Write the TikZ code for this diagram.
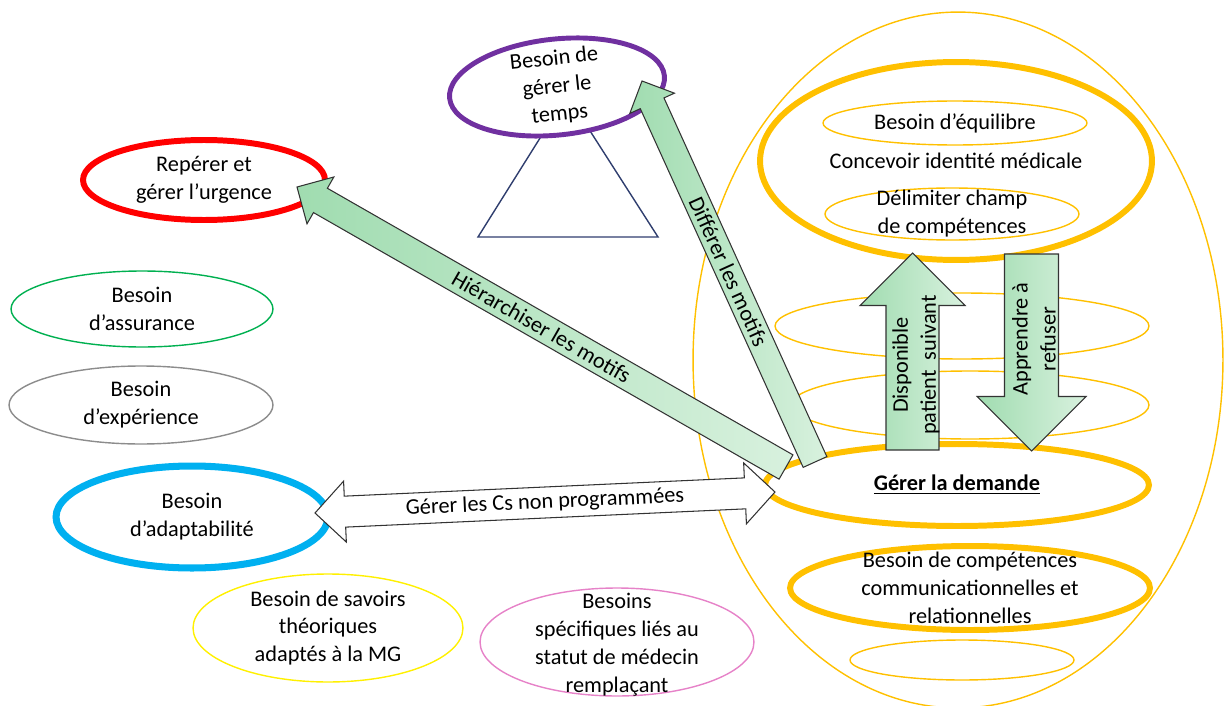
\documentclass[tikz,border=0pt]{standalone}
\usepackage{fontspec}
\setmainfont{Carlito}
\usetikzlibrary{shapes.geometric,calc}

\definecolor{gold}{RGB}{255,192,0}
\definecolor{urgred}{RGB}{255,0,0}
\definecolor{tempsviolet}{RGB}{112,48,160}
\definecolor{assurgreen}{RGB}{0,176,80}
\definecolor{expgray}{RGB}{140,140,140}
\definecolor{adaptblue}{RGB}{0,176,240}
\definecolor{savyellow}{RGB}{255,240,0}
\definecolor{rempink}{RGB}{230,130,200}
\definecolor{trinavy}{RGB}{47,62,110}
\definecolor{arrowdark}{RGB}{160,220,176}
\definecolor{arrowlight}{RGB}{216,241,222}

% flèche pleine : style, queue, pointe, demi-largeur du corps, demi-largeur de la tête
\newcommand{\blockarrow}[5]{%
  \coordinate (#2-b) at ($(#3)!#5!(#2)$);
  \draw[#1] ($(#2)!#4!90:(#3)$) -- ($(#2-b)!#4!90:(#3)$) -- ($(#2-b)!#5!90:(#3)$) -- (#3)
    -- ($(#2-b)!#5!-90:(#3)$) -- ($(#2-b)!#4!-90:(#3)$) -- ($(#2)!#4!-90:(#3)$) -- cycle;
}

\begin{document}
\begin{tikzpicture}[
    x=0.02cm, y=-0.02cm,
    every node/.style={font=\fontsize{12.7}{15.9}\selectfont},
    ring/.style={ellipse, draw, inner sep=0pt},
    thinring/.style={ring, line width=0.8pt},
    thickring/.style={ring, line width=3.4pt},
    txt/.style={align=center, inner sep=0pt},
    arrowtxt/.style={inner sep=0pt},
    greenarrow/.style={draw=black!80, line width=0.6pt, line join=miter,
      left color=arrowdark, right color=arrowlight},
    whitearrow/.style={draw=black!80, line width=0.6pt, fill=white}
  ]
    \useasboundingbox (0,0) rectangle (1227,706);

    % grand ovale de droite
    \node[thinring, draw=gold, minimum width=10.6cm, minimum height=13.92cm] (outer) at (958,360) {};

    % triangle sous le temps
    \draw[trinavy, line width=0.8pt] (478,237) -- (567,95) -- (658,237) -- cycle;

    % ovales de gauche
    \node[ring, draw=tempsviolet, fill=white, line width=2.8pt, rotate=6, minimum width=4.32cm, minimum height=1.92cm] (temps) at (557,87) {};
    \node[thickring, draw=urgred, minimum width=4.84cm, minimum height=1.6cm] (urgence) at (204,180) {};
    \node[thinring, draw=assurgreen, minimum width=5.24cm, minimum height=1.52cm] (assurance) at (142,309) {};
    \node[thinring, draw=expgray, minimum width=5.28cm, minimum height=1.56cm] (experience) at (141,405) {};
    \node[ring, draw=adaptblue, line width=4pt, minimum width=5.44cm, minimum height=2.04cm] (adapt) at (192,517) {};
    \node[thinring, draw=savyellow, minimum width=5.4cm, minimum height=2.16cm] (savoirs) at (328,628) {};
    \node[thinring, draw=rempink, minimum width=5.48cm, minimum height=2.16cm] (remplacant) at (617,642) {};

    % ovales de droite
    \node[thickring, draw=gold, minimum width=7.84cm, minimum height=3.96cm] (identite) at (956,161) {};
    \node[thinring, draw=gold, minimum width=5.28cm, minimum height=0.88cm] (equilibre) at (955,123) {};
    \node[thinring, draw=gold, minimum width=5.08cm, minimum height=1.04cm] (champ) at (952,214) {};
    \node[thinring, draw=gold, minimum width=7.48cm, minimum height=1.32cm] (vide1) at (962,326) {};
    \node[thinring, draw=gold, minimum width=7.16cm, minimum height=1.36cm] (vide2) at (970,405) {};
    \node[thickring, draw=gold, minimum width=7.68cm, minimum height=1.64cm] (demande) at (957,485) {};
    \node[thickring, draw=gold, minimum width=7.2cm, minimum height=1.68cm] (comm) at (970,588) {};
    \node[thinring, draw=gold, minimum width=4.48cm, minimum height=0.8cm] (vide3) at (962,660) {};

    % textes
    \node[txt, rotate=6] (tempstxt) at (temps) {Besoin de\\gérer le\\temps};
    \node[txt] (urgencetxt) at (urgence) {Repérer et\\gérer l’urgence};
    \node[txt] (assurancetxt) at (assurance) {Besoin\\d’assurance};
    \node[txt] (experiencetxt) at (experience) {Besoin\\d’expérience};
    \node[txt] (adapttxt) at (adapt) {Besoin\\d’adaptabilité};
    \node[txt] (savoirstxt) at (savoirs) {Besoin de savoirs\\théoriques\\adaptés à la MG};
    \node[txt] (remplacanttxt) at ($(remplacant)+(0,3)$) {Besoins\\spécifiques liés au\\statut de médecin\\remplaçant};
    \node[txt] (identitetxt) at (identite) {Concevoir identité médicale};
    \node[txt] (equilibretxt) at (equilibre) {Besoin d’équilibre};
    \node[txt] (champtxt) at (champ) {Délimiter champ\\de compétences};
    \node[txt] (demandetxt) at (demande) {\textbf{\underline{Gérer la demande}}};
    \node[txt] (commtxt) at (comm) {Besoin de compétences\\communicationnelles et\\relationnelles};

    % flèches vertes
    \coordinate (hierTail) at (786,467);
    \coordinate (hierTip) at (297,187);
    \blockarrow{greenarrow}{hierTail}{hierTip}{0.28cm}{0.54cm}
    \path (hierTip) -- (hierTail) node[midway, sloped, arrowtxt] (hiertxt) {Hiérarchiser les motifs};

    \coordinate (differTail) at (815,462);
    \coordinate (differTip) at (642,81);
    \blockarrow{greenarrow}{differTail}{differTip}{0.26cm}{0.49cm}
    \path (differTip) -- (differTail) node[midway, sloped, arrowtxt] (differtxt) {Différer les motifs};

    \coordinate (dispoTail) at (912.5,450);
    \coordinate (dispoTip) at (912.5,253);
    \blockarrow{greenarrow}{dispoTail}{dispoTip}{0.53cm}{1.05cm}
    \node[txt, rotate=90] (dispotxt) at (916,365) {Disponible\\patient\ \ suivant};

    \coordinate (refusTail) at (1031.5,254);
    \coordinate (refusTip) at (1031.5,451);
    \blockarrow{greenarrow}{refusTail}{refusTip}{0.54cm}{1.09cm}
    \node[txt, rotate=90] (refustxt) at (1034,339) {Apprendre à\\refuser};

    % flèche double
    \coordinate (csL) at (315,513);
    \coordinate (csR) at (775,492);
    \coordinate (csLb) at ($(csL)!0.6cm!(csR)$);
    \coordinate (csRb) at ($(csR)!0.6cm!(csL)$);
    \draw[whitearrow] (csL) -- ($(csLb)!0.61cm!90:(csR)$) -- ($(csLb)!0.31cm!90:(csR)$)
      -- ($(csRb)!0.31cm!-90:(csL)$) -- ($(csRb)!0.61cm!-90:(csL)$) -- (csR)
      -- ($(csRb)!0.61cm!90:(csL)$) -- ($(csRb)!0.31cm!90:(csL)$)
      -- ($(csLb)!0.31cm!-90:(csR)$) -- ($(csLb)!0.61cm!-90:(csR)$) -- cycle;
    \path (csL) -- (csR) node[midway, sloped, arrowtxt] (cstxt) {Gérer les Cs non programmées};

  \end{tikzpicture}
\end{document}
